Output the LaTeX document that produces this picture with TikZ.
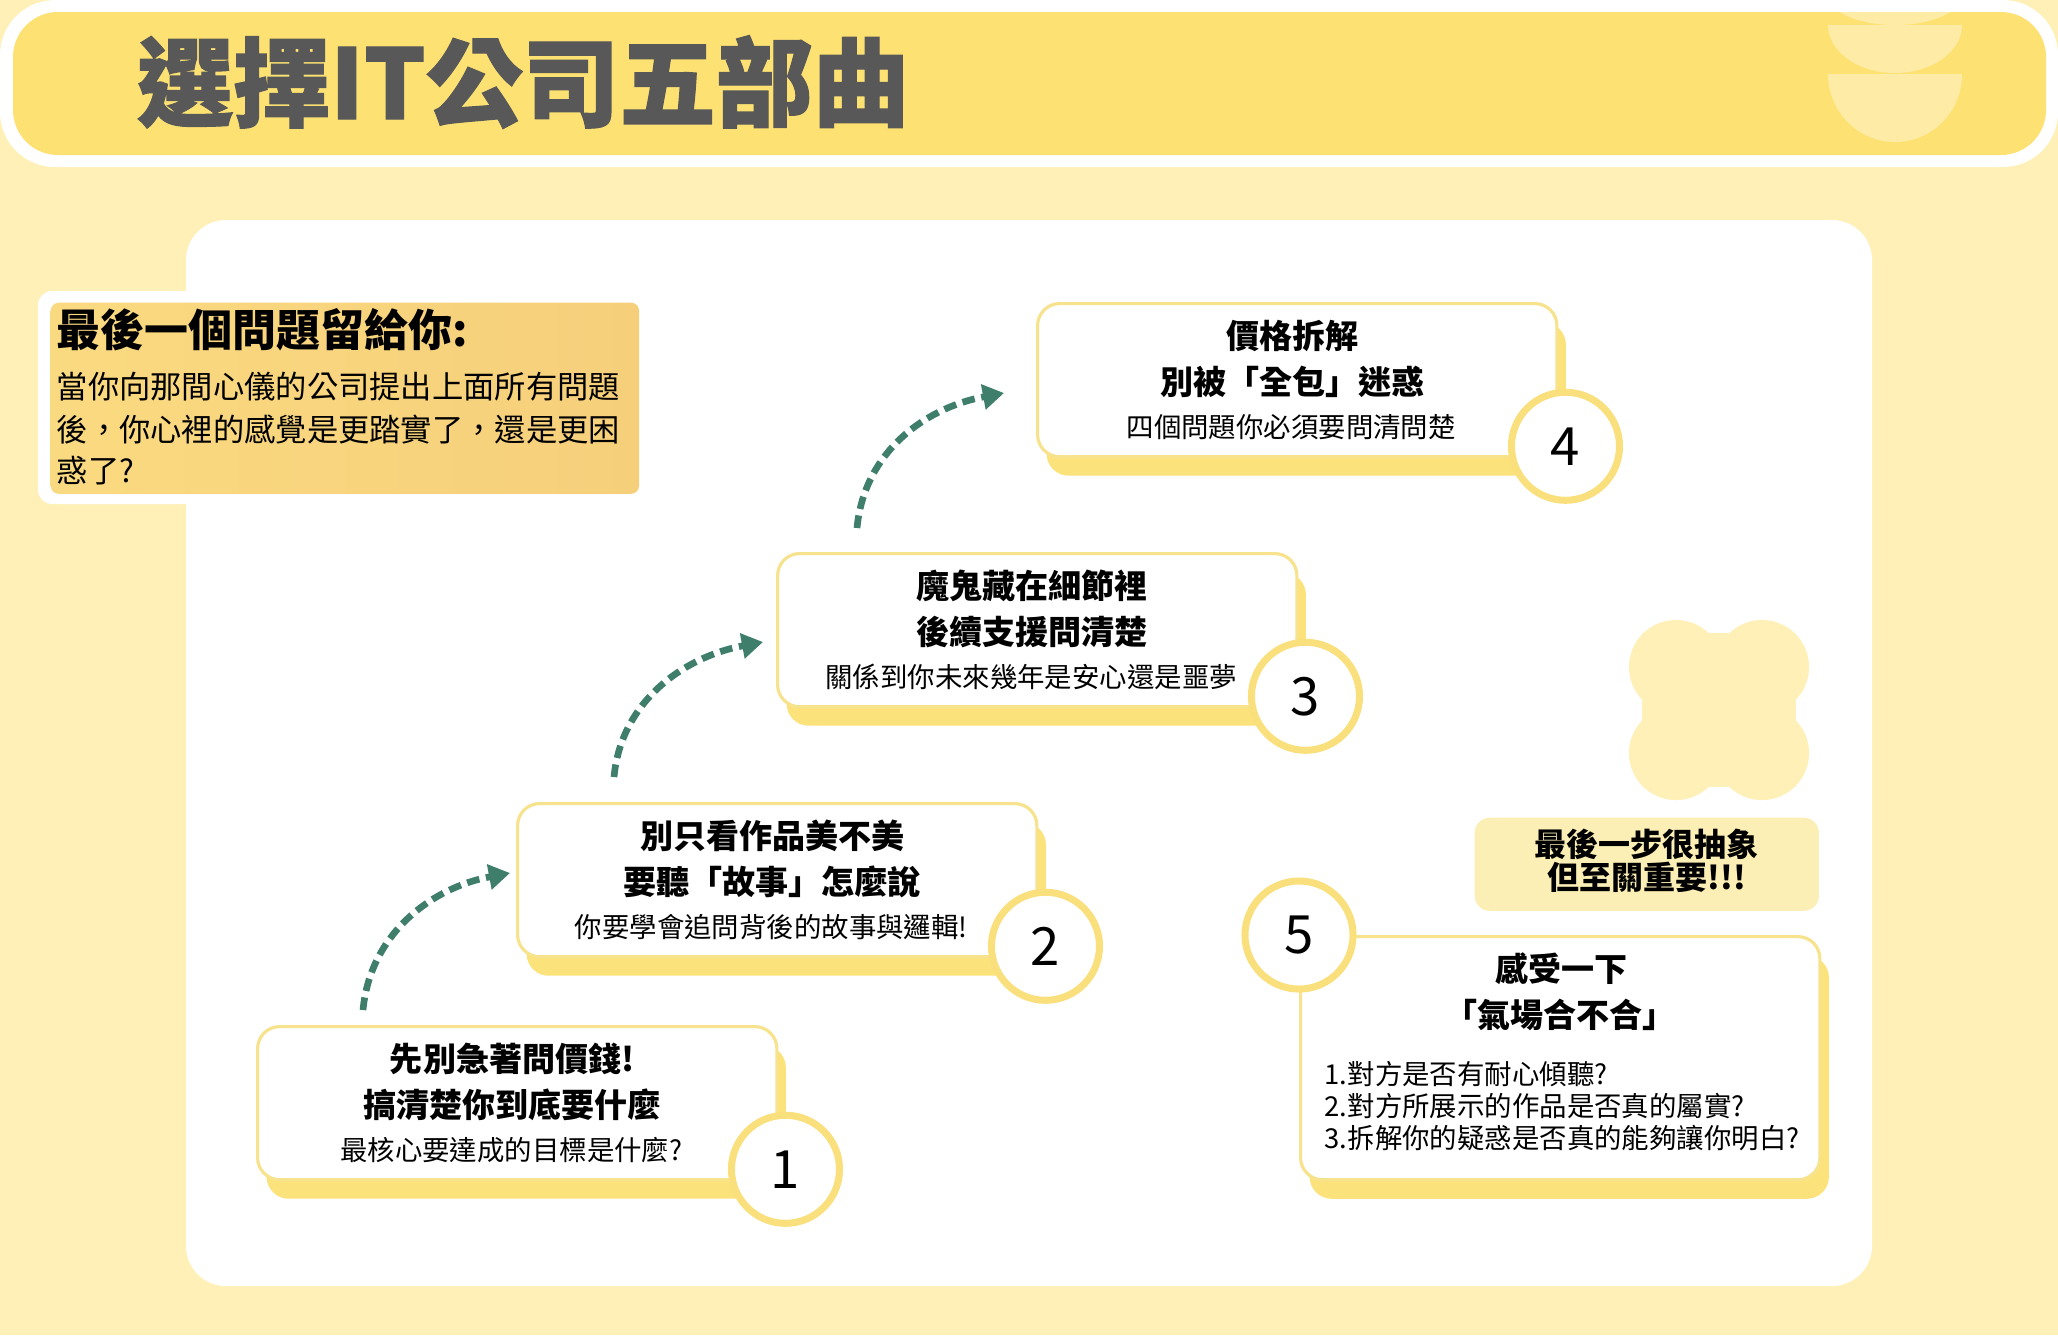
\documentclass[tikz,border=0pt]{standalone}
\usepackage{fontspec}
\setmainfont{Noto Sans CJK TC}
\newfontfamily\titlefont[BoldFeatures={FakeBold=1.2}]{Noto Sans CJK TC}
\usetikzlibrary{positioning,calc,shadows,arrows.meta}

\definecolor{bgyel}{HTML}{FEF0B7}
\definecolor{baryel}{HTML}{FDE273}
\definecolor{decoyel}{HTML}{FDEBA6}
\definecolor{titlegray}{HTML}{585858}
\definecolor{boxline}{HTML}{F7E38E}
\definecolor{shadowyel}{HTML}{FCE27B}
\definecolor{ringyel}{HTML}{FAE07D}
\definecolor{notefill}{HTML}{FCEFB5}
\definecolor{orangeA}{HTML}{FADA80}
\definecolor{orangeB}{HTML}{F6CF7B}
\definecolor{arrowgreen}{HTML}{3F7E6B}

\begin{document}
\begin{tikzpicture}[x=0.01cm,y=-0.01cm,
  every node/.style={inner sep=0pt},
  stepbox/.style={draw=boxline,line width=0.9pt,fill=white,rounded corners=0.22cm,
    minimum width=5.19cm,minimum height=1.53cm,
    drop shadow={shadow xshift=0.09cm,shadow yshift=-0.19cm,fill=shadowyel,opacity=1}},
  numring/.style={circle,draw=ringyel,line width=2pt,fill=white,minimum size=1.08cm,
    font=\fontsize{15}{15}\selectfont},
  headline/.style={font=\fontsize{9.4}{11}\selectfont\bfseries},
  subline/.style={font=\fontsize{7.8}{9.1}\selectfont},
  flowarrow/.style={arrowgreen,line width=1.9pt,dash pattern=on 3.6pt off 1.9pt,
    -{Triangle[length=6pt,width=7pt]}},
  ]
  \useasboundingbox (0,0) rectangle (2058,1335);
  \fill[bgyel] (0,0) rectangle (2058,1335);

  % title bar
  \fill[white,rounded corners=0.55cm] (0,0) rectangle (2058,167);
  \fill[baryel,rounded corners=0.45cm] (13,12) rectangle (2046,155);
  \begin{scope}
    \clip[rounded corners=0.45cm] (13,12) rectangle (2046,155);
    \fill[decoyel] (1828,-5) arc[start angle=180,end angle=0,x radius=67,y radius=30] -- cycle;
    \fill[decoyel] (1828,25) arc[start angle=180,end angle=0,x radius=67,y radius=48] -- cycle;
    \fill[decoyel] (1828,74) arc[start angle=180,end angle=0,x radius=67,y radius=68] -- cycle;
  \end{scope}
  \node[anchor=west,font=\titlefont\fontsize{27.5}{28}\selectfont\bfseries,text=titlegray]
    (title) at (136,82) {選擇IT公司五部曲};

  % main panel
  \fill[white,rounded corners=0.4cm] (186,220) rectangle (1872,1286);

  % last question note
  \fill[white,rounded corners=0.14cm] (38,291) rectangle (648,504);
  \node[anchor=north west,left color=orangeA,right color=orangeB,rounded corners=0.08cm,
    minimum width=5.88cm,minimum height=1.91cm] (note) at (50,302) {};
  \node[anchor=west,font=\fontsize{12.5}{13}\selectfont\bfseries] (note-h) at (56,330) {最後一個問題留給你:};
  \node[anchor=west,font=\fontsize{8.9}{9}\selectfont] (note-1) at (56,387) {當你向那間心儀的公司提出上面所有問題};
  \node[anchor=west,font=\fontsize{8.9}{9}\selectfont] (note-2) at (56,429) {後，你心裡的感覺是更踏實了，還是更困};
  \node[anchor=west,font=\fontsize{8.9}{9}\selectfont] (note-3) at (56,471) {惑了?};

  % flower
  \begin{scope}[shift={(1719,710)}]
    \fill[bgyel] (-77,-77) rectangle (77,77);
    \foreach \dx/\dy in {-43/-43,43/-43,-43/43,43/43}
      \fill[bgyel] (\dx,\dy) circle (0.47cm);
  \end{scope}

  % steps 1-4
  \foreach \i/\x/\y/\ta/\tb/\tc in {
    1/256/1025/{先別急著問價錢!}/{搞清楚你到底要什麼}/{最核心要達成的目標是什麼?},
    2/516/802/{別只看作品美不美}/{要聽「故事」怎麼說}/{你要學會追問背後的故事與邏輯!},
    3/776/552/{魔鬼藏在細節裡}/{後續支援問清楚}/{關係到你未來幾年是安心還是噩夢},
    4/1036/302/{價格拆解}/{別被「全包」迷惑}/{四個問題你必須要問清問楚}}{
    \node[stepbox,anchor=north west] (s\i) at (\x,\y) {};
    \node[headline] (s\i-a) at ($(s\i.north)+(-5,34)$) {\ta};
    \node[headline] (s\i-b) at ($(s\i.north)+(-5,80)$) {\tb};
    \node[subline] (s\i-c) at ($(s\i.north)+(-6,125)$) {\tc};
    \node[numring] (c\i) at ($(s\i.south east)+(7,-12)$) {\i};
  }

  % step 5
  \node[stepbox,anchor=north west,minimum height=2.43cm] (s5) at (1299,935) {};
  \node[numring] (c5) at (s5.north west) {5};
  \node[headline] (s5-a) at ($(s5.north)+(1,34)$) {感受一下};
  \node[headline] (s5-b) at ($(s5.north)+(0,80)$) {「氣場合不合」};
  \node[subline,align=left,anchor=west] (s5-c) at ($(s5.north west)+(25,171)$)
    {1.對方是否有耐心傾聽?\\2.對方所展示的作品是否真的屬實?\\3.拆解你的疑惑是否真的能夠讓你明白?};

  \node[anchor=north west,fill=notefill,rounded corners=0.15cm,
    minimum width=3.44cm,minimum height=0.93cm] (hint) at (1474,817) {};
  \node[align=center,font=\fontsize{9.1}{9.4}\selectfont\bfseries] (hint-t)
    at ($(hint)+(0,-3)$) {最後一步很抽象\\但至關重要!!!};

  % arrows
  \coordinate (a1s) at (363,1010); \coordinate (a1e) at (510,873);
  \coordinate (a2s) at (614,777);  \coordinate (a2e) at (763,642);
  \coordinate (a3s) at (857,528);  \coordinate (a3e) at (1004,393);
  \foreach \j in {1,2,3}
    \draw[flowarrow] (a\j s) .. controls +(7,-75) and +(-80,15) .. (a\j e);
\end{tikzpicture}
\end{document}
